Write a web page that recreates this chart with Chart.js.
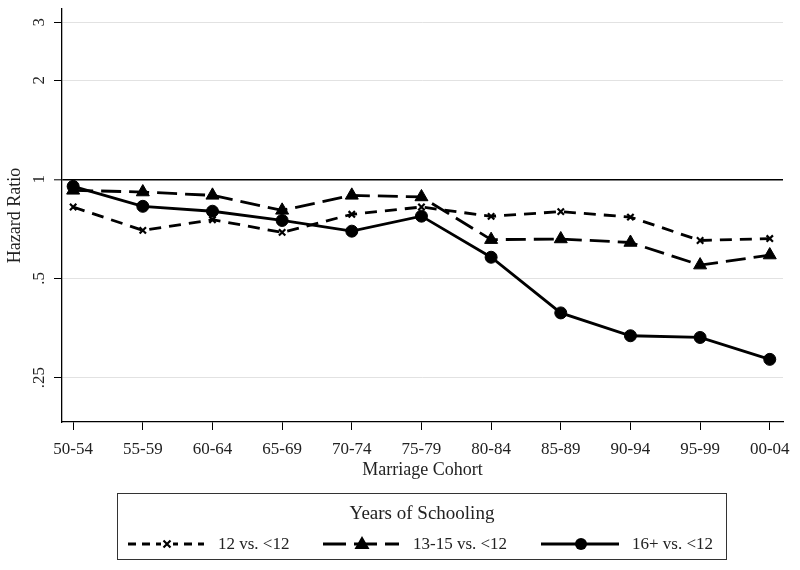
<!DOCTYPE html>
<html>
<head>
<meta charset="utf-8">
<script src="https://cdn.jsdelivr.net/npm/chart.js@4"></script>
<style>
  body { margin: 0; background: #fff; }
  #wrap { position: relative; width: 800px; height: 570px; font-family: "Liberation Serif", "DejaVu Serif", serif; color: #222; }
  #legend { position: absolute; left: 117px; top: 493px; width: 608px; height: 65px; border: 1.3px solid #333; }
  #legend .title { position: absolute; left: 0; right: 0; top: 8px; text-align: center; font-size: 19px; }
  #legend .item { position: absolute; top: 40px; height: 20px; }
  #legend svg { position: absolute; top: 0; }
  #legend span { position: absolute; top: 0; font-size: 17px; line-height: 20px; white-space: nowrap; }
</style>
</head>
<body>
<div id="wrap">
  <canvas id="myChart" width="800" height="570"></canvas>
  <div id="legend"></div>
</div>
<script>
const cohorts = ['50-54', '55-59', '60-64', '65-69', '70-74', '75-79', '80-84', '85-89', '90-94', '95-99', '00-04'];
const hs12 = [0.824, 0.70, 0.754, 0.69, 0.783, 0.824, 0.772, 0.798, 0.768, 0.652, 0.661];
const col1315 = [0.926, 0.915, 0.894, 0.805, 0.894, 0.884, 0.656, 0.659, 0.643, 0.549, 0.589];
const col16 = [0.952, 0.828, 0.80, 0.75, 0.696, 0.773, 0.580, 0.393, 0.335, 0.331, 0.284];
const yTicks = [0.25, 0.5, 1, 2, 3];
const yTickLabels = ['.25', '.5', '1', '2', '3'];
const seriesNames = ['12 vs. <12', '13-15 vs. <12', '16+ vs. <12'];

const fontFamily = '"Liberation Serif", "DejaVu Serif", serif';
const toPoints = (arr) => arr.map((v, i) => ({ x: i, y: v }));

// rotated y tick labels, stata style
const yLabelPlugin = {
    id: 'yLabels',
    afterDraw(chart) {
        const ctx = chart.ctx;
        const y = chart.scales.y;
        ctx.save();
        ctx.fillStyle = '#222';
        ctx.font = '17px ' + fontFamily;
        ctx.textAlign = 'center';
        ctx.textBaseline = 'middle';
        yTicks.forEach((v, i) => {
            ctx.save();
            ctx.translate(40, y.getPixelForValue(v));
            ctx.rotate(-Math.PI / 2);
            ctx.fillText(yTickLabels[i], 0, 0);
            ctx.restore();
        });
        ctx.restore();
    }
};

const ctx = document.getElementById('myChart').getContext('2d');
new Chart(ctx, {
    type: 'line',
    data: {
        datasets: [{
            label: seriesNames[0],
            data: toPoints(hs12),
            borderColor: '#000',
            backgroundColor: '#000',
            borderWidth: 2.8,
            borderDash: [12, 8],
            pointStyle: 'crossRot',
            pointRadius: 4.5,
            pointBorderWidth: 2.2,
            tension: 0
        }, {
            label: seriesNames[1],
            data: toPoints(col1315),
            borderColor: '#000',
            backgroundColor: '#000',
            borderWidth: 2.8,
            borderDash: [20, 8],
            pointStyle: 'triangle',
            pointRadius: 7.5,
            pointBorderWidth: 1,
            tension: 0
        }, {
            label: seriesNames[2],
            data: toPoints(col16),
            borderColor: '#000',
            backgroundColor: '#000',
            borderWidth: 2.8,
            pointStyle: 'circle',
            pointRadius: 6,
            pointBorderWidth: 1,
            tension: 0
        }]
    },
    options: {
        responsive: false,
        animation: false,
        layout: { padding: { top: 9, right: 17, bottom: 88, left: 0 } },
        plugins: {
            legend: { display: false },
            tooltip: { enabled: false }
        },
        scales: {
            x: {
                type: 'linear',
                min: -0.16,
                max: 10.19,
                afterBuildTicks: (scale) => { scale.ticks = cohorts.map((c, i) => ({ value: i })); },
                afterFit: (scale) => { scale.height = 60; },
                ticks: {
                    callback: (v) => cohorts[v],
                    font: { family: fontFamily, size: 17 },
                    color: '#222',
                    padding: 9,
                    maxRotation: 0,
                    autoSkip: false
                },
                grid: { drawOnChartArea: false, tickLength: 8, tickColor: '#000', tickWidth: 1 },
                border: { color: '#000', width: 1.3 },
                title: {
                    display: true,
                    text: 'Marriage Cohort',
                    font: { family: fontFamily, size: 18 },
                    color: '#222',
                    padding: { top: 0, bottom: 1 }
                }
            },
            y: {
                type: 'logarithmic',
                min: 0.1833,
                max: 3.29,
                afterBuildTicks: (scale) => { scale.ticks = yTicks.map(v => ({ value: v })); },
                afterFit: (scale) => { scale.width = 62; },
                ticks: { display: false },
                grid: {
                    color: (c) => (c.tick && c.tick.value === 1) ? '#000' : '#e2e2e2',
                    lineWidth: (c) => (c.tick && c.tick.value === 1) ? 1.6 : 1,
                    tickLength: 8,
                    tickColor: '#000',
                    tickWidth: 1
                },
                border: { color: '#000', width: 1.3 },
                title: {
                    display: true,
                    text: 'Hazard Ratio',
                    font: { family: fontFamily, size: 18 },
                    color: '#222',
                    padding: { top: 4, bottom: 0 }
                }
            }
        }
    },
    plugins: [yLabelPlugin]
});

// legend box, built from the series names
const legendEl = document.getElementById('legend');
const samples = [
    '<line x1="0" y1="10" x2="76" y2="10" stroke="#000" stroke-width="3" stroke-dasharray="8 6"/>' +
    '<rect x="33" y="4" width="12" height="12" fill="#fff"/>' +
    '<path d="M35.5 6.5 L42.5 13.5 M42.5 6.5 L35.5 13.5" stroke="#000" stroke-width="2.2"/>',
    '<line x1="0" y1="10" x2="76" y2="10" stroke="#000" stroke-width="3" stroke-dasharray="23 8"/>' +
    '<polygon points="39,2 46.5,15 31.5,15" fill="#000"/>',
    '<line x1="0" y1="10" x2="78" y2="10" stroke="#000" stroke-width="3"/>' +
    '<circle cx="40" cy="10" r="6" fill="#000"/>'
];
const svgLeft = [10, 205, 423];
const textLeft = [100, 295, 514];
let html = '<div class="title">Years of Schooling</div>';
seriesNames.forEach((name, i) => {
    html += '<div class="item" style="left:0">' +
        '<svg width="80" height="20" style="left:' + svgLeft[i] + 'px">' + samples[i] + '</svg>' +
        '<span style="left:' + textLeft[i] + 'px">' + name.replace('<', '&lt;') + '</span></div>';
});
legendEl.innerHTML = html;
</script>
</body>
</html>
